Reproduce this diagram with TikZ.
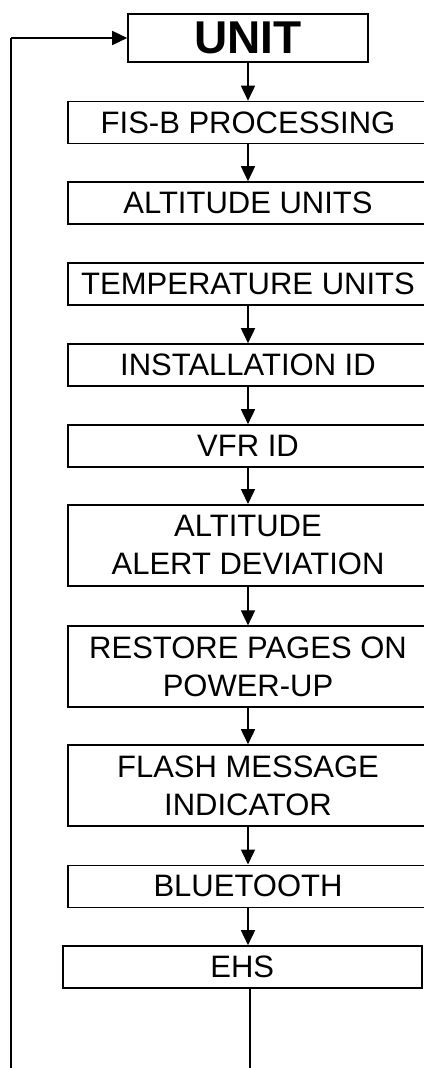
\documentclass[tikz,border=0pt]{standalone}
\usepackage{fontspec}
\setmainfont{Liberation Sans}
\usepackage{tikz}
\usetikzlibrary{arrows.meta, positioning}
\tikzstyle{menu} = [draw=black, line width=1.6pt, minimum width=360pt, minimum height=42pt, inner sep=0,
                    align=center, font=\fontsize{31}{38}\selectfont]
\tikzstyle{tall} = [minimum height=81pt]
\tikzstyle{flow} = [line width=1.6pt, -{Triangle[width=14pt, length=15pt]}]
\tikzstyle{wire} = [line width=1.6pt]

\begin{document}
\begin{tikzpicture}[x=1pt, y=1pt]
					\useasboundingbox (0, 0) rectangle (423, -1068);

					\node (Unit) [draw=black, line width=1.6pt, minimum width=240pt, minimum height=48pt, inner sep=0,
					              font=\fontsize{46}{46}\selectfont\bfseries] at (248, -38) {UNIT};

					\node (FisB) [menu] at (248, -122.5) {FIS-B PROCESSING};
					\draw [flow] (Unit) -- (FisB);

					\node (AltUnits) [menu] at (248, -203) {ALTITUDE UNITS};
					\draw [flow] (FisB) -- (AltUnits);

					% no arrow here
					\node (TempUnits) [menu] at (248, -283.7) {TEMPERATURE UNITS};

					\node (InstallId) [menu] at (248, -365) {INSTALLATION ID};
					\draw [flow] (TempUnits) -- (InstallId);

					\node (VfrId) [menu] at (248, -446) {VFR ID};
					\draw [flow] (InstallId) -- (VfrId);

					\node (AltAlert) [menu, tall] at (248, -545.3) {ALTITUDE\\ALERT DEVIATION};
					\draw [flow] (VfrId) -- (AltAlert);

					\node (Restore) [menu, tall] at (248, -666.7) {RESTORE PAGES ON\\POWER-UP};
					\draw [flow] (AltAlert) -- (Restore);

					\node (Flash) [menu, tall] at (248, -785.5) {FLASH MESSAGE\\INDICATOR};
					\draw [flow] (Restore) -- (Flash);

					\node (Bluetooth) [menu] at (248, -886.3) {BLUETOOTH};
					\draw [flow] (Flash) -- (Bluetooth);

					\node (Ehs) [menu, minimum width=359pt] at (242.2, -967) {EHS};
					\draw [flow] (Bluetooth) -- (Bluetooth |- Ehs.north);

					% back to the top
					\coordinate (EhsOut) at (250, -1068);
					\draw [wire] (EhsOut |- Ehs.south) -- (EhsOut);

					\coordinate (LoopIn) at (11, -1068);
					\coordinate (LoopTop) at (11, -38);
					\draw [wire] (LoopIn) -- (LoopTop);
					\draw [flow] (LoopTop) -- (Unit);
				\end{tikzpicture}
\end{document}
